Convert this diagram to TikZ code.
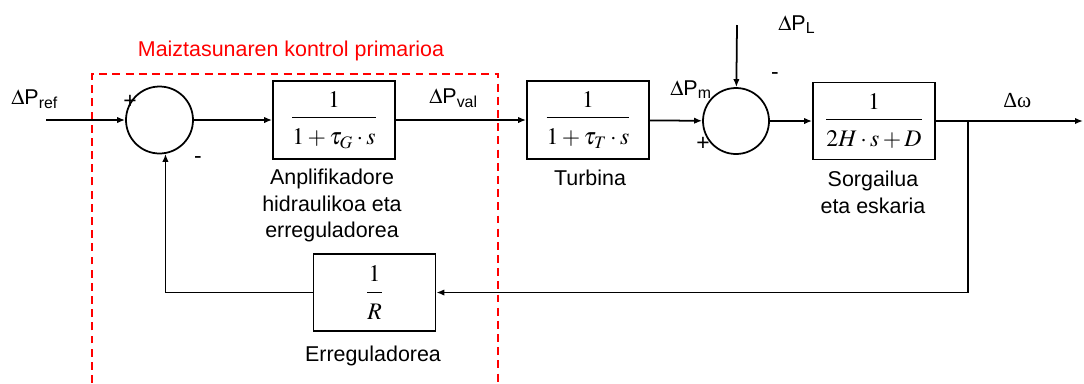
\documentclass[tikz,border=0pt]{standalone}
\usepackage{mathptmx}
\usepackage[no-math]{fontspec}
\setmainfont{Liberation Sans}
\newfontfamily\greekserif{Liberation Serif}
\usetikzlibrary{arrows.meta}

\begin{document}
\begin{tikzpicture}[x=0.02cm,y=-0.02cm,
   block/.style={draw=black,line width=1pt,minimum width=122*0.02cm,minimum height=78*0.02cm,inner sep=0pt,
      font=\fontsize{13.5}{15}\selectfont},
   sumnode/.style={draw=black,line width=1pt,circle,minimum size=67*0.02cm,inner sep=0pt},
   arr/.style={line width=1pt,-{Latex[length=4.5pt,width=3.6pt]}},
   lbl/.style={inner sep=0pt,font=\fontsize{12.2}{15.2}\selectfont},
   sgn/.style={inner sep=0pt,font=\fontsize{13}{15}\selectfont}]

   \useasboundingbox (0,0) rectangle (1084,383);

   % control primario
   \draw[red,line width=1pt,dash pattern=on 4.5pt off 3pt] (92,383) -- (92,74) -- (498,74) -- (498,383);
   \node[lbl,text=red] (title) at (291,51) {Maiztasunaren kontrol primarioa};

   \node[sumnode] (sum1) at (159.5,120) {};
   \node[block] (gov) at (334,120) {$\displaystyle\frac{1}{\rule{0pt}{13.5pt}1+\tau_G\cdot s}$};
   \node[block] (turb) at (588,120) {$\displaystyle\frac{1}{\rule{0pt}{13.5pt}1+\tau_T\cdot s}$};
   \node[sumnode,minimum size=66*0.02cm] (sum2) at (736,121) {};
   \node[block,minimum height=77*0.02cm] (gen) at (874,121) {$\displaystyle\frac{1}{\rule{0pt}{13.5pt}2H\cdot s+D}$};
   \node[block,minimum height=77*0.02cm] (droop) at (374.5,292.5) {$\displaystyle\frac{1}{\rule{0pt}{13.5pt}R}$};

   \node[lbl,align=center] (govtxt) at (332,205.5) {Anplifikadore\\hidraulikoa eta\\erreguladorea};
   \node[lbl] (turbtxt) at (590,178) {Turbina};
   \node[lbl,align=center] (gentxt) at (873,192.5) {Sorgailua\\eta eskaria};
   \node[lbl] (drooptxt) at (373,356) {Erreguladorea};

   \node[lbl,anchor=base west] (pref) at (11,104) {$\Delta$P\textsubscript{ref}};
   \node[lbl,anchor=base west] (pval) at (429,103) {$\Delta$P\textsubscript{val}};
   \node[lbl,anchor=base west] (pm) at (670,95) {$\Delta$P\textsubscript{m}};
   \node[lbl,anchor=base west] (pl) at (778,30) {$\Delta$P\textsubscript{L}};
   \node[lbl,anchor=base west] (dw) at (1003,107) {\greekserif Δω};

   \node[sgn] (plus1) at (130,102) {+};
   \node[sgn] (minus1) at (198,160) {-};
   \node[sgn] (plus2) at (703,144) {+};
   \node[sgn] (minus2) at (775,76) {-};

   \coordinate (in) at (46,120);
   \coordinate (load) at (737,25);
   \coordinate (branch) at (968,121);
   \coordinate (out) at (1083,121);

   \draw[arr] (in) -- (sum1);
   \draw[arr] (sum1) -- (gov);
   \draw[arr] (gov) -- (turb);
   \draw[arr] (turb) -- (sum2);
   \draw[arr] (load) -- (sum2);
   \draw[arr] (sum2) -- (gen);
   \draw[arr] (gen) -- (out);
   \draw[arr] (branch) |- (droop.east);
   \draw[arr] (droop.west) -| (sum1.-80);
\end{tikzpicture}
\end{document}
